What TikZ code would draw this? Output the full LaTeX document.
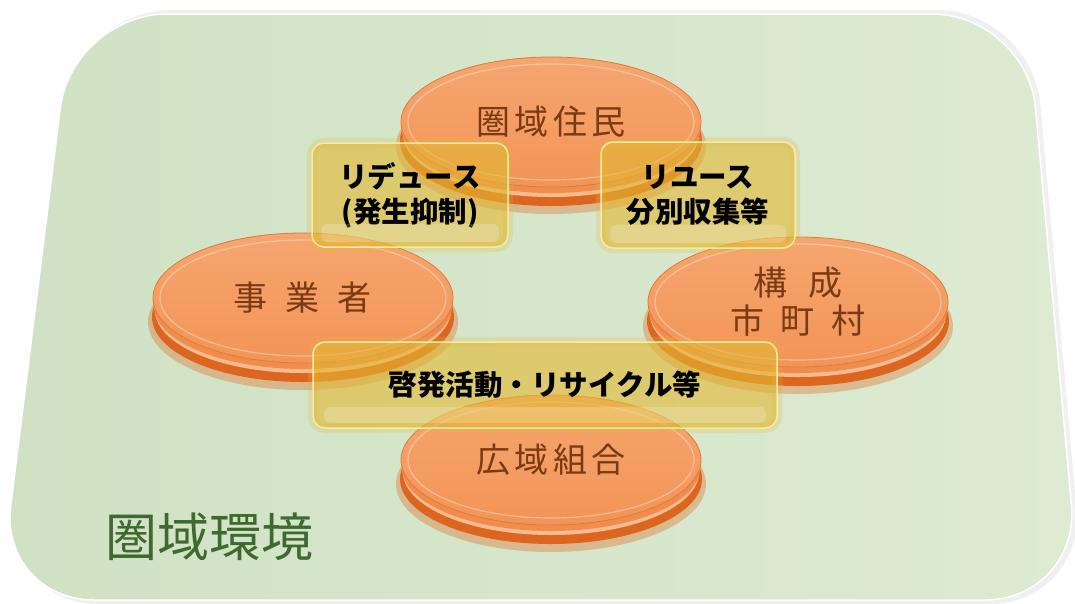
\documentclass[tikz,border=0pt]{standalone}
\usepackage{fontspec}
\setmainfont{Noto Sans CJK JP}
\usetikzlibrary{shapes.geometric}
\definecolor{panelA}{HTML}{D0E1C4}
\definecolor{panelB}{HTML}{DCEBD2}
\definecolor{diskTop}{HTML}{F6A670}
\definecolor{diskBot}{HTML}{F29457}
\definecolor{diskEdge}{HTML}{E27A36}
\definecolor{rimDark}{HTML}{DC6620}
\definecolor{rimLight}{HTML}{F6BC90}
\definecolor{disktext}{HTML}{7A3A14}
\definecolor{labelgreen}{HTML}{3E6A30}
\definecolor{gold}{HTML}{E2B832}
\definecolor{goldedge}{HTML}{F7E9A8}
\tikzset{
  diskface/.style={ellipse, minimum width=300pt, minimum height=130pt, inner sep=0pt,
    top color=diskTop, bottom color=diskBot, draw=diskEdge, line width=0.8pt,
    text=disktext, font=\fontsize{34}{42}\selectfont, align=center},
  goldbox/.style={rectangle, rounded corners=12pt, fill=gold, fill opacity=0.6, text opacity=1,
    draw=goldedge, line width=1.5pt, align=center, text=black, inner sep=0pt,
    font=\bfseries\fontsize{28.5}{35}\selectfont,
    preaction={draw=gold, line width=10pt, draw opacity=0.22}},
  gloss/.style={fill=white, fill opacity=0.2, rounded corners=6pt},
  biglabel/.style={text=labelgreen, font=\fontsize{52}{60}\selectfont, inner sep=0pt}
}
\newcommand\mydisk[3]{%
  \begin{scope}[shift={#2}]
    \fill[rimDark, opacity=0.35] (0,24) ellipse [x radius=155pt, y radius=68pt];
    \fill[rimDark] (0,19) ellipse [x radius=151pt, y radius=65pt];
    \fill[rimLight] (0,12) ellipse [x radius=148pt, y radius=63pt];
    \fill[diskBot!85!rimDark] (0,8) ellipse [x radius=149pt, y radius=63pt];
    \node[diskface] (#1) at (0,0) {#3};
    \draw[white, opacity=0.35, line width=1.2pt] (0,0) ellipse [x radius=143pt, y radius=58pt];
  \end{scope}}
\begin{document}
\begin{tikzpicture}[x=1pt, y=-1pt]
\useasboundingbox (0,0) rectangle (1075,603);
\fill[white] (0,0) rectangle (1075,603);
% panel shadow
\fill[black, opacity=0.06, rounded corners=95pt] (76,10) -- (1032,10) -- (1085,604) -- (3,604) -- cycle;
% panel
\path[left color=panelA, right color=panelB, draw=white, line width=1.5pt, rounded corners=95pt]
  (72,14) -- (1027,14) -- (1080,600) -- (-1,600) -- cycle;
% discs
\mydisk{resident}{(551,122)}{圏\hspace{0.12em}域\hspace{0.12em}住\hspace{0.12em}民}
\mydisk{business}{(303,298)}{事\hspace{0.53em}業\hspace{0.53em}者}
\mydisk{city}{(798,302)}{構\hspace{0.6em}成\\[-4pt]市\hspace{0.5em}町\hspace{0.5em}村}
\mydisk{union}{(551,460)}{広\hspace{0.12em}域\hspace{0.12em}組\hspace{0.12em}合}
% gold boxes
\node[goldbox, minimum width=196pt, minimum height=104pt] (reduce) at (410,195) {リデュース\\(発生抑制)};
\node[goldbox, minimum width=194pt, minimum height=106pt] (reuse) at (698,195) {リユース\\分別収集等};
\node[goldbox, minimum width=464pt, minimum height=86pt] (campaign) at (545,385) {啓発活動・リサイクル等};
% gloss strips
\fill[gloss] ([shift={(10,-24)}]reduce.south west) rectangle ([shift={(-10,-6)}]reduce.south east);
\fill[gloss] ([shift={(10,-24)}]reuse.south west) rectangle ([shift={(-10,-6)}]reuse.south east);
\fill[gloss] ([shift={(12,-22)}]campaign.south west) rectangle ([shift={(-12,-6)}]campaign.south east);
% label
\node[biglabel] (area) at (209,537) {圏域環境};
\end{tikzpicture}
\end{document}
